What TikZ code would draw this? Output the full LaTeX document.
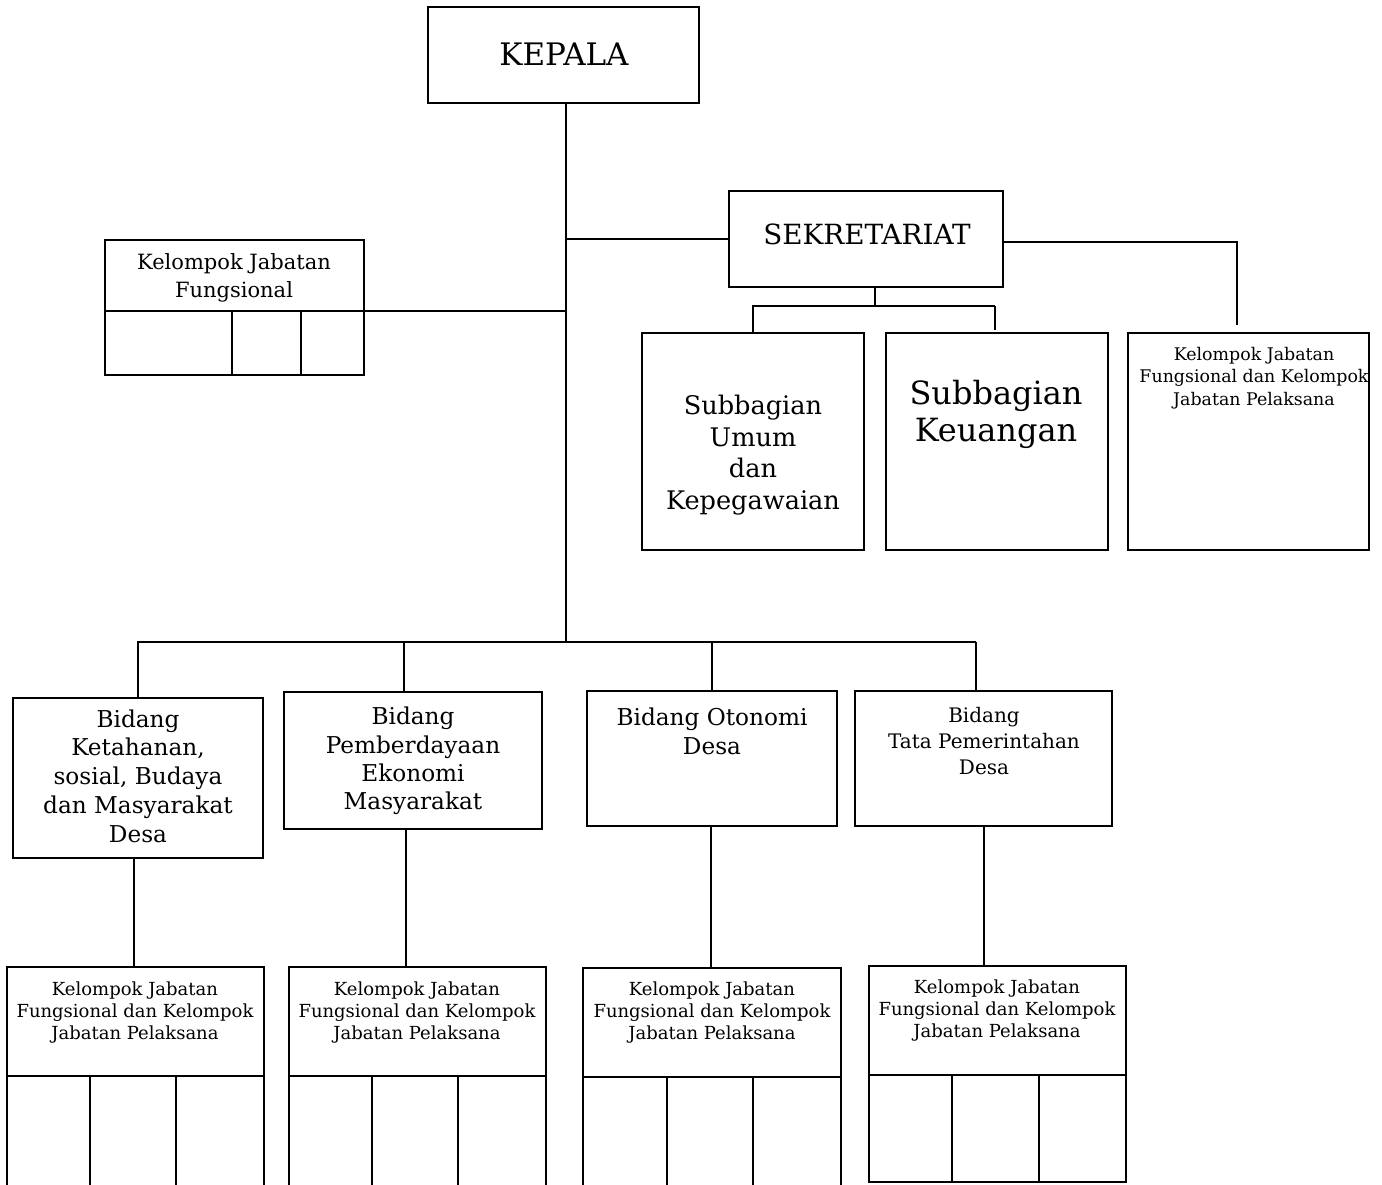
\documentclass[tikz,border=0pt]{standalone}
\usepackage{fontspec}
\setmainfont{DejaVu Serif}
\usetikzlibrary{calc}
\begin{document}
\begin{tikzpicture}[x=0.5pt,y=-0.5pt,
  box/.style={draw, line width=1pt, inner sep=0pt, outer sep=0pt},
  conn/.style={line width=1pt},
  lbl/.style={align=center, inner sep=0pt}]
\useasboundingbox (0,0) rectangle (1382,1184);
\clip (0,0) rectangle (1382,1184);

% boxes
\node[box, minimum width=135.5pt, minimum height=48pt] (kepala) at (563.5,55) {};
\node[box, minimum width=137pt, minimum height=48pt] (sek) at (866,239) {};
\node[box, minimum width=129.5pt, minimum height=67.5pt] (fj) at (234.5,307.5) {};
\node[box, minimum width=111pt, minimum height=108.5pt] (sub1) at (753,441.5) {};
\node[box, minimum width=111pt, minimum height=108.5pt] (sub2) at (997,441.5) {};
\node[box, minimum width=120.5pt, minimum height=108.5pt] (rtop) at (1248.5,441.5) {};
\node[box, minimum width=125pt, minimum height=80pt] (b1) at (138,778) {};
\node[box, minimum width=129pt, minimum height=68.5pt] (b2) at (413,760.5) {};
\node[box, minimum width=125pt, minimum height=67.5pt] (b3) at (712,758.5) {};
\node[box, minimum width=128.5pt, minimum height=67.5pt] (b4) at (983.5,758.5) {};
\node[box, minimum width=128.5pt, minimum height=116.5pt] (k1) at (135.5,1083.5) {};
\node[box, minimum width=128.5pt, minimum height=116.5pt] (k2) at (417.5,1083.5) {};
\node[box, minimum width=129pt, minimum height=116pt] (k3) at (712,1084) {};
\node[box, minimum width=128.5pt, minimum height=108pt] (k4) at (997.5,1074) {};

% texts
\node[lbl, font=\fontsize{15.5}{18}\selectfont] (tkepala) at (564,54) {KEPALA};
\node[lbl, font=\fontsize{13.9}{16}\selectfont] (tsek) at (867,234) {SEKRETARIAT};
\node[lbl, font=\fontsize{10.5}{14}\selectfont] (tfj) at (234,278) {Kelompok Jabatan\\Fungsional};
\node[lbl, font=\fontsize{12.8}{15.8}\selectfont] (tsub1) at (753,455) {Subbagian\\Umum\\dan\\Kepegawaian};
\node[lbl, font=\fontsize{16}{18.5}\selectfont] (tsub2) at (996,414) {Subbagian\\Keuangan};
\node[lbl, font=\fontsize{8.7}{11.2}\selectfont] (trtop) at (1254,378) {Kelompok Jabatan\\Fungsional dan Kelompok\\Jabatan Pelaksana};
\node[lbl, font=\fontsize{11.6}{14.4}\selectfont] (tb1) at (138,776) {Bidang\\Ketahanan,\\sosial, Budaya\\dan Masyarakat\\Desa};
\node[lbl, font=\fontsize{11.6}{14.2}\selectfont] (tb2) at (413,761) {Bidang\\Pemberdayaan\\Ekonomi\\Masyarakat};
\node[lbl, font=\fontsize{11.6}{14.4}\selectfont] (tb3) at (712,731) {Bidang Otonomi\\Desa};
\node[lbl, font=\fontsize{10}{13}\selectfont] (tb4) at (984,741) {Bidang\\Tata Pemerintahan\\Desa};
\node[lbl, font=\fontsize{9}{11}\selectfont] (tk1) at (135,1013) {Kelompok Jabatan\\Fungsional dan Kelompok\\Jabatan Pelaksana};
\node[lbl, font=\fontsize{9}{11}\selectfont] (tk2) at (417,1013) {Kelompok Jabatan\\Fungsional dan Kelompok\\Jabatan Pelaksana};
\node[lbl, font=\fontsize{9}{11}\selectfont] (tk3) at (712,1013) {Kelompok Jabatan\\Fungsional dan Kelompok\\Jabatan Pelaksana};
\node[lbl, font=\fontsize{9}{11}\selectfont] (tk4) at (997,1011) {Kelompok Jabatan\\Fungsional dan Kelompok\\Jabatan Pelaksana};

% internal dividers
\coordinate (fjdiv) at (0,311);
\draw[conn] (fj.west |- fjdiv) -- (fj.east |- fjdiv);
\draw[conn] (232,311) -- (232,375);
\draw[conn] (301,311) -- (301,375);
\foreach \k/\yy/\xa/\xb/\yb in {k1/1076/90/176/1200, k2/1076/372/458/1200, k3/1077/667/753/1200, k4/1075/952/1039/1182}{
  \draw[conn] (\k.west |- 0,\yy) -- (\k.east |- 0,\yy);
  \draw[conn] (\xa,\yy) -- (\xa,\yb);
  \draw[conn] (\xb,\yy) -- (\xb,\yb);
}

% connectors
\coordinate (bus) at (566,642);
\coordinate (d2) at (404,642);
\coordinate (d4) at (976,642);
\coordinate (rdrop) at (1237,325);
\coordinate (sright) at (1003,242);
\coordinate (sbus) at (875,306);
\coordinate (sleg) at (995,330);
\coordinate (v1) at (134,0);
\coordinate (v2) at (406,0);
\coordinate (v3) at (711,0);
\coordinate (v4) at (984,0);

\draw[conn] (kepala.south -| bus) -- (bus);
\draw[conn] (sek.west) -- (sek.west -| bus);
\draw[conn] (fj.east |- fjdiv) -- (fjdiv -| bus);
\draw[conn] (sright) -- (sright -| rdrop) -- (rdrop);
\draw[conn] (sek.south -| sbus) -- (sbus);
\draw[conn] (sub1.north) -- (sub1.north |- sbus) -- (sleg |- sbus);
\draw[conn] (sleg |- sbus) -- (sleg);
\draw[conn] (b1.north) -- (b1.north |- bus) -- (d4);
\draw[conn] (d2) -- (d2 |- b2.north);
\draw[conn] (b3.north) -- (b3.north |- bus);
\draw[conn] (d4) -- (d4 |- b4.north);
\draw[conn] (b1.south -| v1) -- (k1.north -| v1);
\draw[conn] (b2.south -| v2) -- (k2.north -| v2);
\draw[conn] (b3.south -| v3) -- (k3.north -| v3);
\draw[conn] (b4.south -| v4) -- (k4.north -| v4);
\end{tikzpicture}
\end{document}
